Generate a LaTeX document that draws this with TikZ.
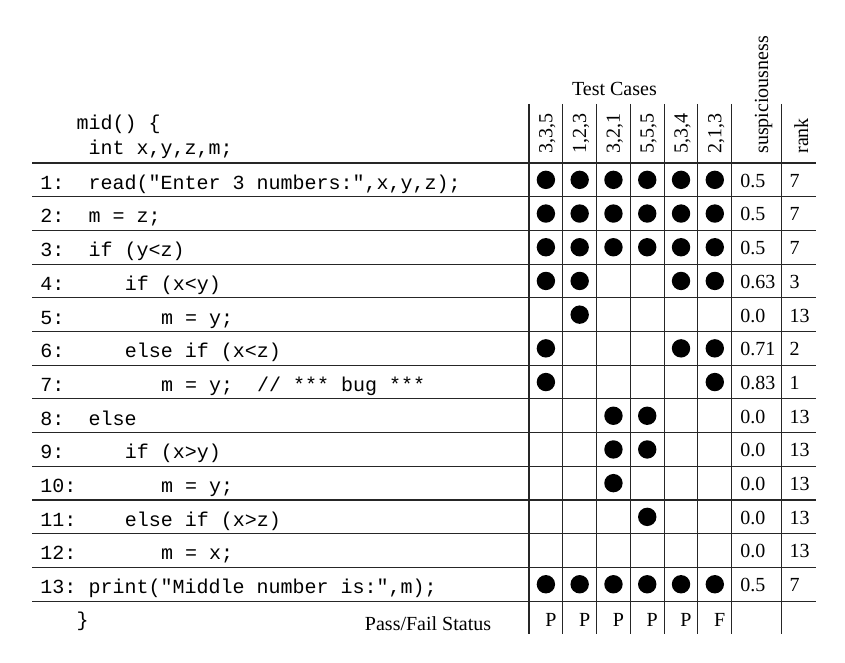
\documentclass[tikz,border=0pt]{standalone}
\usepackage{fontspec}
\setmainfont{Liberation Serif}
\setmonofont{Liberation Mono}
\begin{document}
\begin{tikzpicture}[x=0.5pt,y=-0.5pt,
  grid/.style={line width=0.55pt, black!85},
  code/.style={anchor=base west, inner sep=0, font=\ttfamily\frenchspacing},
  txt/.style={anchor=base west, inner sep=0},
  rtxt/.style={anchor=base east, inner sep=0},
  vtxt/.style={rotate=90, anchor=base west, inner sep=0}]
\useasboundingbox (0,0) rectangle (845,663);
% grid
\foreach \k in {0,...,13}
  \draw[grid] (32,{163+\k*33.7}) -- (816,{163+\k*33.7});
\foreach \x in {529,562.8,596.6,630.3,664.1,697.9,731.7,781.7}
  \draw[grid] (\x,104) -- (\x,634);
% headers
\node[txt] (tclabel) at (571.7,95.7) {Test Cases};
\foreach \c/\t in {1/{3,3,5},2/{1,2,3},3/{3,2,1},4/{5,5,5},5/{5,3,4},6/{2,1,3}}
  \node[vtxt] (tc\c) at ({529+(\c-0.5)*33.78+6.5},154) {\t};
\node[vtxt] (susp) at (768,154) {suspiciousness};
\node[vtxt] (rankh) at (808,154) {rank};
% code header
\node[code] (midl) at (76.2,129.3) {mid() \{};
\node[code] (intl) at (88.3,155) {int x,y,z,m;};
\node[code] (closel) at (76.2,626) {\}};
% code rows
\foreach \r/\ind/\cd in {
  1/0/{read("Enter 3 numbers:",x,y,z);},
  2/0/{m = z;},
  3/0/{if (y<z)},
  4/3/{if (x<y)},
  5/6/{m = y;},
  6/3/{else if (x<z)},
  7/6/{m = y;\ \ // *** bug ***},
  8/0/{else},
  9/3/{if (x>y)},
  10/6/{m = y;},
  11/3/{else if (x>z)},
  12/6/{m = x;},
  13/0/{print("Middle number is:",m);}} {
  \node[code] (ln\r) at (40,{163+(\r-0.5)*33.7+9.4}) {\r:};
  \node[code] (code\r) at ({88.3+\ind*12.07},{163+(\r-0.5)*33.7+9.4}) {\cd};
}
% coverage dots
\foreach \r/\cols in {1/{1,2,3,4,5,6},2/{1,2,3,4,5,6},3/{1,2,3,4,5,6},
  4/{1,2,5,6},5/{2},6/{1,5,6},7/{1,6},8/{3,4},9/{3,4},10/{3},11/{4},
  13/{1,2,3,4,5,6}}
  \foreach \c in \cols
    \fill ({529+(\c-0.5)*33.78},{163+(\r-0.5)*33.7}) circle[radius=4.6pt];
% suspiciousness and rank
\foreach \r/\s/\k in {1/0.5/7,2/0.5/7,3/0.5/7,4/0.63/3,5/0.0/13,6/0.71/2,
  7/0.83/1,8/0.0/13,9/0.0/13,10/0.0/13,11/0.0/13,12/0.0/13,13/0.5/7} {
  \node[txt] (sus\r) at (740,{163+(\r-0.5)*33.7+7.4}) {\s};
  \node[txt] (rank\r) at (789.3,{163+(\r-0.5)*33.7+7.4}) {\k};
}
% pass/fail
\node[rtxt] (pflabel) at (491.5,630) {Pass/Fail Status};
\foreach \c/\v in {1/P,2/P,3/P,4/P,5/P,6/F}
  \node[rtxt] (pf\c) at ({529+\c*33.78-6},626) {\v};
\end{tikzpicture}
\end{document}
